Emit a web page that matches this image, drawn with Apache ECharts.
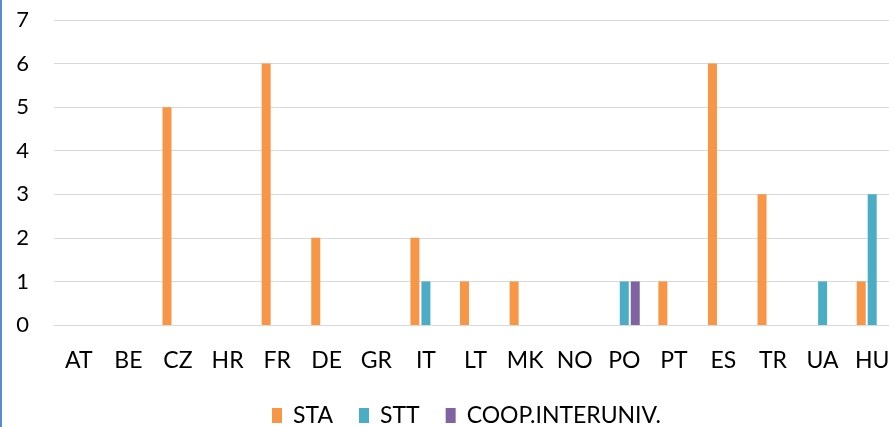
<!DOCTYPE html>
<html><head><meta charset="utf-8">
<script src="https://cdn.jsdelivr.net/npm/echarts@6/dist/echarts.min.js"></script>
<style>html,body{margin:0;padding:0;background:#fff;overflow:hidden}#c{width:889px;height:427px}</style>
</head><body><div id="c"></div>
<script>
var categories = ['AT','BE','CZ','HR','FR','DE','GR','IT','LT','MK','NO','PO','PT','ES','TR','UA','HU'];
var seriesNames = ['STA','STT','COOP.INTERUNIV.'];
var staValues  = [0,0,5,0,6,2,0,2,1,1,0,0,1,6,3,0,1];
var sttValues  = [0,0,0,0,0,0,0,1,0,0,0,1,0,0,0,1,3];
var coopValues = [0,0,0,0,0,0,0,0,0,0,0,1,0,0,0,0,0];
var yTicks = [0,1,2,3,4,5,6,7];
var colors = ['#F79646','#4BACC6','#8064A2'];
var font = 'Lato';
var chart = echarts.init(document.getElementById('c'));
function mk(name, data, color){
  return {name:name, type:'bar', data:data, barWidth:9, barGap:'22%',
    itemStyle:{color:color}, emphasis:{disabled:true}};
}
chart.setOption({
  animation:false,
  grid:{left:54, width:843, top:20, height:305, containLabel:false, outerBoundsMode:'none'},
  graphic:[{type:'rect', left:0, top:0, shape:{width:2, height:427}, style:{fill:'#5B8BC9'}}],
  legend:{top:404, left:272, padding:0, itemWidth:10, itemHeight:15, itemGap:26,
    icon:'rect', textStyle:{fontFamily:font, fontSize:23, color:'#000', padding:[0,0,0,6]}, data:seriesNames},
  xAxis:{type:'category', data:categories,
    axisLine:{lineStyle:{color:'#d9d9d9', width:1}},
    axisTick:{lineStyle:{color:'#d9d9d9'}, length:6},
    axisLabel:{fontFamily:font, fontSize:23, color:'#000', margin:24}},
  yAxis:{type:'value', min:0, max:7, interval:1,
    axisLine:{show:false}, axisTick:{show:false},
    splitLine:{lineStyle:{color:'#d9d9d9'}},
    axisLabel:{fontFamily:font, fontSize:22, color:'#000', margin:25,
      formatter:function(v){return yTicks.indexOf(v)>=0?String(v):'';}}},
  series:[mk(seriesNames[0], staValues, colors[0]), mk(seriesNames[1], sttValues, colors[1]), mk(seriesNames[2], coopValues, colors[2])]
});
</script></body></html>
